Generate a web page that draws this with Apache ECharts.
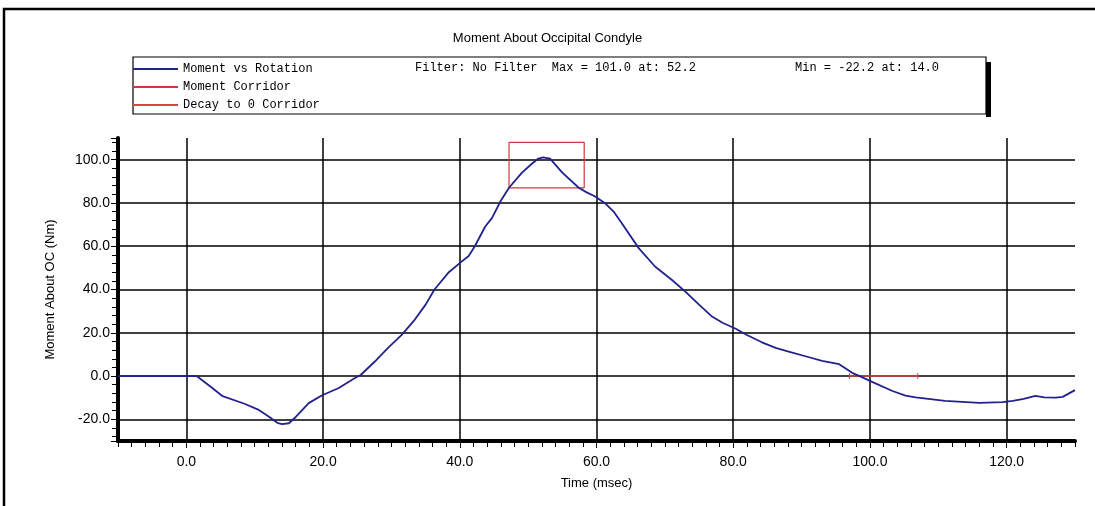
<!DOCTYPE html>
<html>
<head>
<meta charset="utf-8">
<script src="https://cdn.jsdelivr.net/npm/echarts@6/dist/echarts.min.js"></script>
<style>
  html, body { margin: 0; padding: 0; background: #fff; }
  #chart { width: 1095px; height: 506px; }
</style>
</head>
<body>
<div id="chart"></div>
<script>
// time (msec) and moment (Nm)
var timeMs = [-10, 0, 1.5, 3.8, 5.3, 8.5, 10.5, 12.2, 13.3, 14, 15, 15.8, 17.9, 19.8, 22.3, 24.6, 25.5,
  27.5, 29.5, 31.5, 33.4, 35, 36.3, 38.4, 40.3, 41.3, 42.2, 43.7, 44.7, 46, 47.2, 49.1, 50.5, 51.5,
  52.2, 53.2, 55, 57.4, 58.5, 59.8, 61.2, 62.5, 63.7, 66.2, 68.6, 71, 73, 75, 76.9, 78.5, 80.3, 82,
  84.2, 86.2, 88.5, 91.1, 93, 95.5, 97.4, 98.5, 100.4, 103.3, 105.2, 106.7, 111, 116, 119.4, 120.9,
  122.5, 124.2, 125.5, 127.2, 128.2, 130];
var momentNm = [0, 0, 0, -5.5, -9.3, -12.8, -15.5, -19, -21.6, -22.2, -21.8, -19.5, -12.5, -9, -5.5, -1, 0.5,
  6.5, 13, 19, 26, 33, 40, 48, 53, 55.5, 60, 69, 73, 81, 87, 94, 98, 100.5,
  101, 100.5, 94, 87, 85, 83, 80, 76, 70.6, 59, 50.5, 44.5, 39, 33, 27.5, 24.5, 22, 19,
  15.6, 13, 11, 8.7, 7, 5.5, 1.5, 0, -2.8, -6.9, -9, -9.8, -11.5, -12.4, -12, -11.5,
  -10.5, -9.2, -9.8, -10, -9.6, -6.5];

// corridors
var corridorX = [47.2, 58.2, 58.2, 47.2, 47.2];
var corridorY = [87, 87, 108, 108, 87];
var decayX = [97, 107];
var decayY = [0, 0];

var seriesNames = ["Moment vs Rotation", "Moment Corridor", "Decay to 0 Corridor"];
var chartTitle = "Moment About Occipital Condyle";
var filterText = "Filter: No Filter  Max = 101.0 at: 52.2";
var minText = "Min = -22.2 at: 14.0";

function zip(a, b) {
  var out = [];
  for (var i = 0; i < a.length; i++) out.push([a[i], b[i]]);
  return out;
}

var myChart = echarts.init(document.getElementById("chart"));
var gridLines = ["transparent", "#000", "#000", "#000", "#000", "#000", "#000", "#000", "transparent"];
var monoFont = "Liberation Mono";
var sansFont = "Liberation Sans";

var option = {
  animation: false,
  backgroundColor: "#fff",
  title: {
    text: chartTitle,
    left: "center",
    top: 27,
    textStyle: { fontFamily: sansFont, fontSize: 13, fontWeight: "normal", color: "#000" }
  },
  legend: {
    orient: "vertical",
    left: 128,
    top: 58,
    itemWidth: 45,
    itemHeight: 2,
    itemGap: 6,
    icon: "rect",
    data: seriesNames,
    textStyle: { fontFamily: monoFont, fontSize: 12, color: "#000" }
  },
  grid: { left: 118, right: 20, top: 138, bottom: 65 },
  xAxis: [
    {
      type: "value",
      min: -10,
      max: 130,
      splitNumber: 7,
      name: "Time (msec)",
      nameLocation: "middle",
      nameGap: 36,
      nameTextStyle: { fontFamily: sansFont, fontSize: 13, color: "#000" },
      axisLine: { show: true, onZero: false, lineStyle: { color: "#000", width: 4 } },
      axisTick: { show: true, length: 7, lineStyle: { color: "#000" } },
      minorTick: { show: false },
      axisLabel: {
        showMinLabel: false, showMaxLabel: false, margin: 14,
        fontFamily: sansFont, fontSize: 14, color: "#000",
        formatter: function (v) { return v.toFixed(1); }
      },
      splitLine: { show: true, lineStyle: { color: gridLines, width: 1.5 } }
    },
    {
      type: "value",
      min: -10,
      max: 130,
      interval: 2,
      position: "bottom",
      axisLine: { show: false, onZero: false },
      axisTick: { show: true, length: 6, lineStyle: { color: "#000" } },
      axisLabel: { show: false },
      splitLine: { show: false }
    }
  ],
  yAxis: {
    type: "value",
    min: -30,
    max: 110,
    splitNumber: 7,
    name: "Moment About OC (Nm)",
    nameLocation: "middle",
    nameGap: 61,
    nameTextStyle: { fontFamily: sansFont, fontSize: 13, color: "#000" },
    axisLine: { show: true, onZero: false, lineStyle: { color: "#000", width: 4 } },
    axisTick: { show: true, length: 7, lineStyle: { color: "#000" } },
    minorTick: { show: true, splitNumber: 5, length: 6, lineStyle: { color: "#000" } },
    axisLabel: {
      showMinLabel: false, showMaxLabel: false, margin: 8,
      fontFamily: sansFont, fontSize: 14, color: "#000",
      formatter: function (v) { return v.toFixed(1); }
    },
    splitLine: { show: true, lineStyle: { color: gridLines, width: 1.5 } }
  },
  graphic: [
    { type: "rect", z: -1, shape: { x: 4, y: 9, width: 1100, height: 510 }, style: { fill: "none", stroke: "#000", lineWidth: 2.5 } },
    { type: "rect", z: 0, shape: { x: 986, y: 62, width: 5, height: 55 }, style: { fill: "#000" } },
    { type: "rect", z: 0, shape: { x: 133, y: 57, width: 853, height: 57 }, style: { fill: "#fff", stroke: "#000", lineWidth: 1.2 } },
    { type: "text", z: 1, left: 415, top: 62, style: { text: filterText, font: "12px " + monoFont, fill: "#000" } },
    { type: "text", z: 1, left: 795, top: 62, style: { text: minText, font: "12px " + monoFont, fill: "#000" } }
  ],
  series: [
    {
      name: seriesNames[0],
      type: "line",
      showSymbol: false,
      z: 5,
      color: "#22228f",
      lineStyle: { width: 1.8, color: "#22228f" },
      data: zip(timeMs, momentNm)
    },
    {
      name: seriesNames[1],
      type: "line",
      showSymbol: false,
      z: 4,
      color: "#cc3b3b",
      lineStyle: { width: 1.2, color: "#cc3b3b" },
      data: zip(corridorX, corridorY)
    },
    {
      name: seriesNames[2],
      type: "line",
      symbol: "rect",
      symbolSize: [1, 6],
      showSymbol: true,
      z: 4,
      color: "#d94545",
      lineStyle: { width: 1.4, color: "#d94545" },
      data: zip(decayX, decayY)
    }
  ]
};
myChart.setOption(option);
</script>
</body>
</html>
